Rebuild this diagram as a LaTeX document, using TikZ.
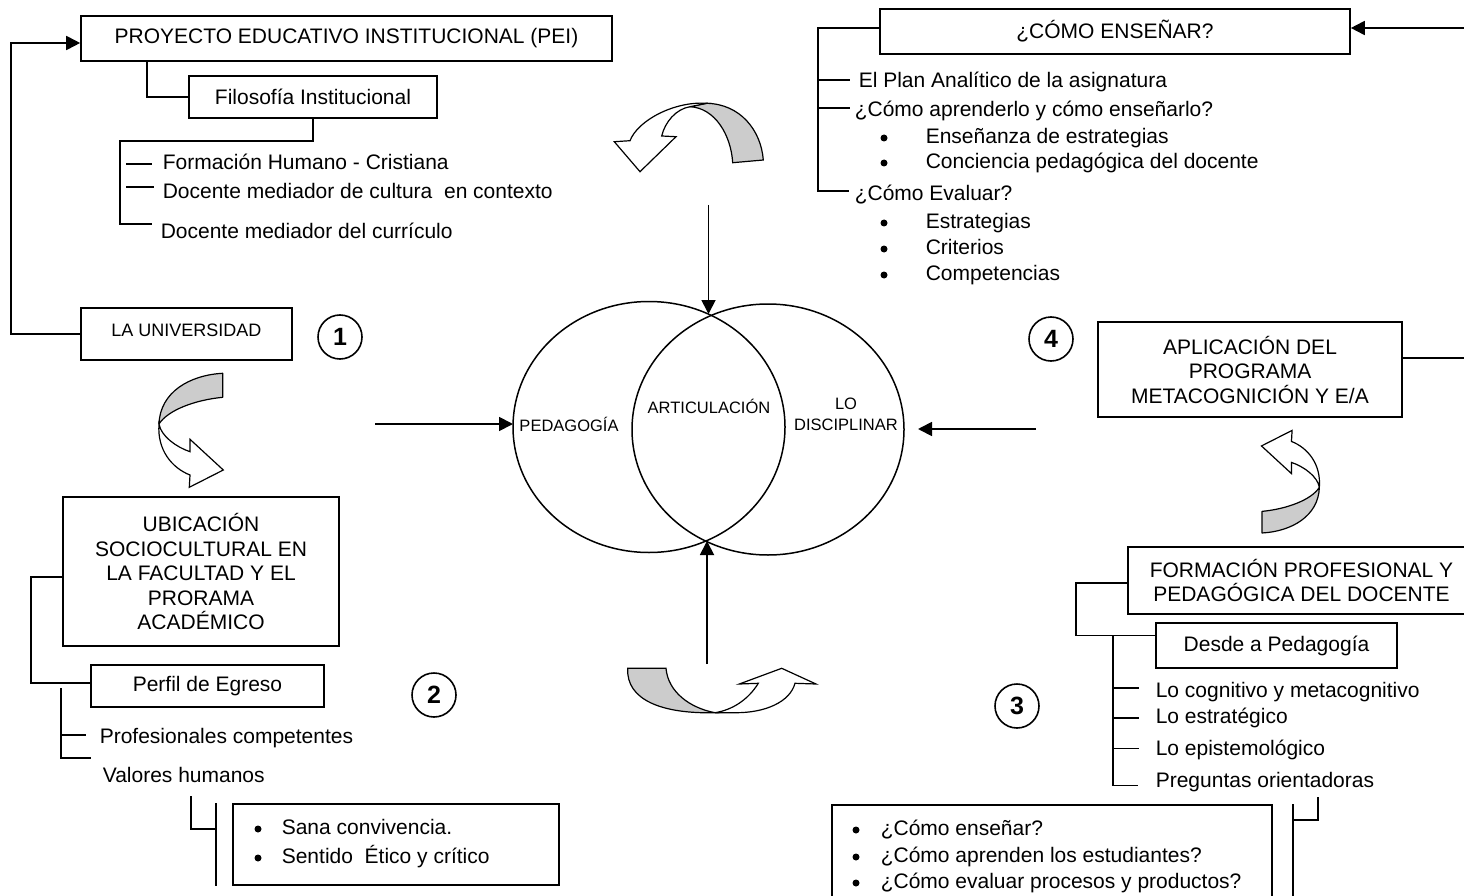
\documentclass[tikz,border=0pt]{standalone}
\usepackage{fontspec}
\setmainfont{Liberation Sans}
\usetikzlibrary{arrows.meta,calc,shapes.geometric}
\definecolor{bandgray}{RGB}{204,204,204}
\newcommand\setfs[2]{\fontsize{#1}{#2}\selectfont}
% list bullet placed a given distance left of a text node
\newcommand\dotbefore[2]{\fill ($(#1.west)+(-#2,0)$) circle[radius=3.5pt];}
% twisted block arrow: grey back face, white front face with head
\tikzset{
  pics/twistarrow/.style={code={
    \draw[fill=bandgray,line width=1.2pt,line join=round]
      (32.2,-57.2) -- (32.2,-33.2)
      .. controls (4.5,-30.5) and (-22.5,-20.5) .. (-31.5,-6.5)
      .. controls (-30.5,-38.5) and (-0.5,-55.5) .. cycle;
    \draw[fill=white,line width=1.2pt]
      (-31.5,-6.5)
      .. controls (-33.5,19.5) and (-18.5,37.5) .. (-0.5,44.5)
      -- (-1.2,56.8) -- (32.8,39.5) -- (-0.5,8.8) -- (-0.5,21.2)
      .. controls (-14.5,16.5) and (-29.5,5.5) .. cycle;
  }}
}
\begin{document}
\begin{tikzpicture}[x=1pt,y=-1pt,line width=1.6pt,
  box/.style={draw,line width=1.6pt,inner sep=0pt,align=center,font=\setfs{21}{24.5}},
  lbl/.style={inner sep=0pt,anchor=west,font=\setfs{21}{25},text height=15pt,text depth=4.5pt},
  venn/.style={inner sep=0pt,align=center,font=\setfs{16.5}{21}},
  oval/.style={draw,ellipse,line width=1.5pt,minimum width=272pt,minimum height=251pt,inner sep=0pt,outer sep=0pt},
  num/.style={draw,circle,line width=1.6pt,minimum size=44pt,inner sep=0pt,font=\bfseries\setfs{25}{25}},
  arr/.style={line width=1.8pt,-{Triangle[length=14pt,width=14pt]}},
  link/.style={line width=1.6pt},
  tick/.style={line width=1.4pt}
]
\useasboundingbox (0,0) rectangle (1464,896);
\fill[white] (0,0) rectangle (1464,896);
\clip (0,0) rectangle (1464,896);

% ---------- boxes ----------
\node[box,minimum width=531pt,minimum height=45pt] (pei) at (346.5,38.5) {PROYECTO EDUCATIVO INSTITUCIONAL (PEI)};
\node[box,minimum width=248pt,minimum height=42pt] (filo) at (313,97) {Filosofía Institucional};
\node[box,minimum width=211pt,minimum height=52pt,font=\setfs{18}{20},text height=13pt,text depth=9pt] (univ) at (186.5,334) {LA UNIVERSIDAD};
\node[box,minimum width=276pt,minimum height=149pt] (ubic) at (201,571.5) {UBICACIÓN\\SOCIOCULTURAL EN\\LA FACULTAD Y EL\\PRORAMA\\ACADÉMICO};
\node[box,minimum width=233pt,minimum height=42pt] (perfil) at (207.5,686) {Perfil de Egreso};
\node[box,minimum width=326pt,minimum height=81pt] (valbox) at (396,844.5) {};
\node[box,minimum width=470pt,minimum height=45pt] (como) at (1115,31.5) {¿CÓMO ENSEÑAR?};
\node[box,minimum width=304pt,minimum height=95pt] (aplic) at (1250,369.5) {APLICACIÓN DEL\\PROGRAMA\\METACOGNICIÓN Y E/A};
\node[box,minimum width=347pt,minimum height=67pt] (formac) at (1301.5,580.5) {FORMACIÓN PROFESIONAL Y\\PEDAGÓGICA DEL DOCENTE};
\node[box,minimum width=241pt,minimum height=45pt] (desde) at (1276.5,645.5) {Desde a Pedagogía};
\node[box,minimum width=440pt,minimum height=115pt] (pregbox) at (1052,862.5) {};

% ---------- plain text lines ----------
\node[lbl] (tfh) at (162,164) {Formación Humano - Cristiana};
\node[lbl] (tdc) at (162,193) {Docente mediador de cultura\ \ en contexto};
\node[lbl] (tdr) at (160,233) {Docente mediador del currículo};

\node[lbl] (tplan) at (858,82) {El Plan Analítico de la asignatura};
\node[lbl] (tcomo) at (854,111) {¿Cómo aprenderlo y cómo enseñarlo?};
\node[lbl] (tb1) at (925,138) {Enseñanza de estrategias};
\node[lbl] (tb2) at (925,163) {Conciencia pedagógica del docente};
\node[lbl] (teval) at (854,195) {¿Cómo Evaluar?};
\node[lbl] (tb3) at (925,223) {Estrategias};
\node[lbl] (tb4) at (925,249) {Criterios};
\node[lbl] (tb5) at (925,275) {Competencias};
\foreach \b in {tb1,tb2,tb3,tb4,tb5} {\dotbefore{\b}{41}}

\node[lbl] (tprof) at (99,738) {Profesionales competentes};
\node[lbl] (tval) at (102,777) {Valores humanos};
\node[lbl] (s1) at (281,829) {Sana convivencia.};
\node[lbl] (s2) at (281,858) {Sentido\ \ Ético y crítico};
\foreach \b in {s1,s2} {\dotbefore{\b}{23}}

\node[lbl] (tcog) at (1155,692) {Lo cognitivo y metacognitivo};
\node[lbl] (tes) at (1155,718) {Lo estratégico};
\node[lbl] (tepi) at (1155,750) {Lo epistemológico};
\node[lbl] (tpreg) at (1155,782) {Preguntas orientadoras};
\node[lbl] (q1) at (880,830) {¿Cómo enseñar?};
\node[lbl] (q2) at (880,857) {¿Cómo aprenden los estudiantes?};
\node[lbl] (q3) at (880,883) {¿Cómo evaluar procesos y productos?};
\foreach \b in {q1,q2,q3} {\dotbefore{\b}{24}}

% ---------- numbered circles ----------
\node[num] (n1) at (340,337) {1};
\node[num] (n2) at (434,695) {2};
\node[num] (n3) at (1017,706) {3};
\node[num] (n4) at (1051,339) {4};

% ---------- central Venn diagram ----------
\node[oval] (pedag) at (649,427) {};
\node[oval] (disc) at (768,429.5) {};
\node[venn] (tped) at (569,424) {PEDAGOGÍA};
\node[venn] (tart) at (709,406) {ARTICULACIÓN};
\node[venn] (tdis) at (846,414.5) {LO\\DISCIPLINAR};

\coordinate (ta) at (708.5,205);
\coordinate (itop) at (708.5,314);
\coordinate (ba) at (707,664);
\coordinate (ibot) at (707,541);
\coordinate (la) at (375,424);
\coordinate (ra) at (1036,429);
\coordinate (rtip) at (918,429);
\draw[arr] (ta) -- (itop);
\draw[arr] (ba) -- (ibot);
\draw[arr] (la) -- (la -| pedag.west);
\draw[arr] (ra) -- (rtip);

% ---------- connectors, left side ----------
\draw[arr] (univ.west) -- ++(-69,0) |- ([yshift=-4.5pt]pei.west);
\draw[link] ($(pei.south west)+(67,0)$) |- (filo.west);
\draw[link] (filo.south) -- ++(0,22) -- ++(-193,0) -- ++(0,83) -- ++(32,0);
\draw[tick] ($(tfh.west)+(-36,0)$) -- ++(26,0);
\draw[tick] ($(tdc.west)+(-36,-6)$) -- ++(28,0);

\draw[link] ([yshift=-5.5pt]ubic.west) -- ++(-31,0) |- ([yshift=3pt]perfil.west);
\draw[link] ($(perfil.west)+(-29,2)$) -- ++(0,70) -- ++(30,0);
\draw[tick] ($(tprof.west)+(-37,-3)$) -- ++(24,0);
\draw[link] ($(tval.west)+(89,19)$) |- ($(valbox.west)+(-16,-15.5)$);
\draw[link] ($(valbox.north west)+(-16,0)$) -- ($(valbox.south west)+(-16,0)$);

% ---------- connectors, right side ----------
\coordinate (rc1) at (1466,28);
\coordinate (rc2) at (1466,358);
\draw[arr] (rc1) -- ([yshift=3.5pt]como.east);
\draw[link] ([yshift=3.5pt]como.west) -- ++(-61,0) -- ++(0,163) -- ++(31,0);
\draw[tick] ($(tplan.west)+(-39,-2)$) -- ++(31,0);
\draw[tick] ($(tcomo.west)+(-35,-3)$) -- ++(31,0);
\draw[link] ([yshift=11.5pt]aplic.east) -- (rc2);

\draw[link] ([yshift=-2.5pt]formac.west) -- ++(-51,0) |- ([yshift=10pt]desde.west);
\draw[link] ($(desde.west)+(-42,-10)$) -- ++(0,150) -- ++(25,0);
\draw[tick] ($(tcog.west)+(-41,-4)$) -- ++(25,0);
\draw[tick] ($(tes.west)+(-41,0)$) -- ++(25,0);
\draw[line width=1pt] ($(tepi.west)+(-41,-2)$) -- ++(25,0);
\draw[link] ($(tpreg.west)+(163,15)$) -- ++(0,23) -- ++(-26,0);
\draw[link] ($(pregbox.north east)+(20,0)$) -- ++(0,100);

% ---------- twisted block arrows ----------
% top centre, turning down to the left
\draw[fill=bandgray,line width=1.2pt]
  (732.7,162.7) -- (763.3,160) .. controls (761,130) and (740,104) .. (706.7,103.3)
  -- (690,106.7) .. controls (715,108) and (731,135) .. cycle;
\draw[fill=white,line width=1.2pt]
  (706.7,103.3) .. controls (675,101) and (638,120) .. (630,140.7)
  -- (614.3,141.7) -- (640,171.7) -- (676,136.7) -- (661.7,136)
  .. controls (665,122) and (676,109) .. (690,106.7) -- cycle;
% bottom centre, turning up to the right
\draw[fill=bandgray,line width=1.2pt]
  (627.7,668.3) -- (666,668.3) .. controls (668,692) and (690,708) .. (715,712.7)
  .. controls (662,714) and (626,700) .. cycle;
\draw[fill=white,line width=1.2pt]
  (715,712.7) -- (735,712.7) .. controls (765,713) and (790,702) .. (795,683.3)
  -- (816,684) -- (781.7,668.3) -- (739.3,684) -- (758.3,683.3)
  .. controls (748,700) and (732,710) .. cycle;
% left and right
\pic at (190.5,430.5) {twistarrow};
\pic[rotate=180,scale=0.9] at (1291,481.5) {twistarrow};
\end{tikzpicture}
\end{document}
